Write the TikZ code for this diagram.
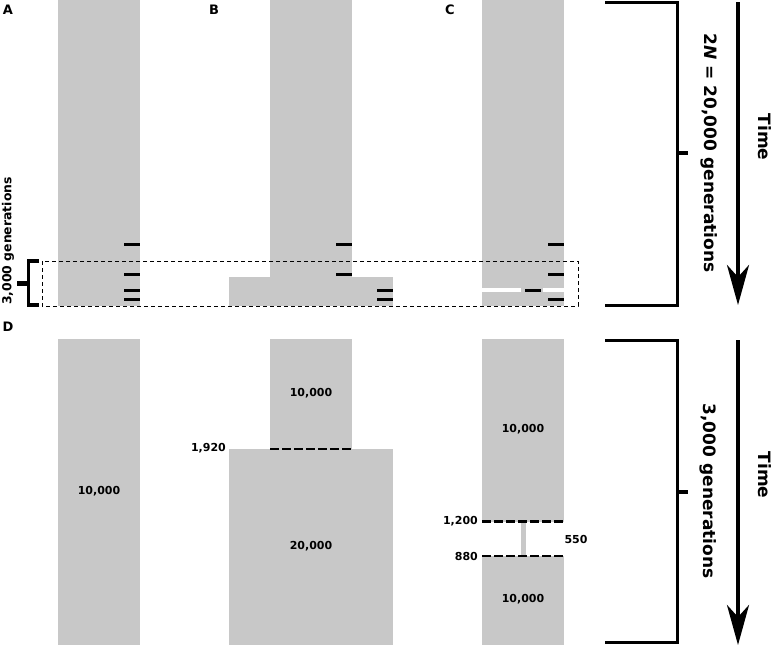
\documentclass[tikz,border=0pt]{standalone}
\usepackage{fontspec}
\setmainfont{DejaVu Sans}
\usetikzlibrary{arrows.meta}
\definecolor{PopGray}{HTML}{C8C8C8}

\begin{document}
\begin{tikzpicture}[x=1pt,y=-1pt,
  popbar/.style={fill=PopGray,draw=none},
  sweeptick/.style={line width=3pt},
  eventline/.style={line width=2.5pt,dash pattern=on 9pt off 3pt},
  bracketline/.style={line width=3pt},
  timearrow/.style={line width=4pt,-{Stealth[length=40pt,width=22pt,inset=12pt]}},
  panellabel/.style={font=\fontsize{13}{15}\selectfont\bfseries,inner sep=0pt},
  sizelabel/.style={font=\fontsize{11}{13}\selectfont\bfseries,inner sep=0pt},
  axislabel/.style={font=\fontsize{17}{20}\selectfont\bfseries,inner sep=0pt,rotate=-90}
]
\useasboundingbox (0,0) rectangle (773,645);

% panels A-C
\fill[popbar] (58,0) rectangle (140,306);
\fill[popbar] (270,0) rectangle (352,306);
\fill[popbar] (229,277) rectangle (393,306);
\fill[popbar] (482,0) rectangle (564,306);
\draw[white,line width=3.5pt] (482,290) -- (521,290) (543,290) -- (564,290);
\foreach \y in {244,274,290,299} \draw[sweeptick] (124,\y) -- (140,\y);
\foreach \y in {244,274} \draw[sweeptick] (336,\y) -- (352,\y);
\foreach \y in {290,299} \draw[sweeptick] (377,\y) -- (393,\y);
\foreach \y in {244,274,299} \draw[sweeptick] (548,\y) -- (564,\y);
\draw[sweeptick] (525,290) -- (541,290);
\draw[line width=1pt,dash pattern=on 4pt off 3pt] (42,261) rectangle (578,306);

\draw[line width=3.5pt] (39,261) -- (28.5,261) -- (28.5,305) -- (39,305);
\draw[line width=5pt] (17,283) -- (28.5,283);
\node[font=\fontsize{12.4}{14}\selectfont\bfseries,inner sep=0pt,rotate=90] (winLab) at (8,241) {3,000 generations};

\node[panellabel] (labA) at (8,10) {A};
\node[panellabel] (labB) at (214,10) {B};
\node[panellabel] (labC) at (450,10) {C};
\node[panellabel] (labD) at (8,327) {D};

% time scale, top
\draw[bracketline] (605,2) -- (677,2) -- (677,305) -- (605,305);
\draw[line width=4.5pt] (677,153) -- (688,153);
\node[axislabel] (spanTop) at (709,153) {2\textit{N} = 20,000 generations};
\node[axislabel] (timeTop) at (765,137) {Time};
\coordinate (tTopS) at (738,2);
\coordinate (tTopE) at (738,305);
\draw[timearrow] (tTopS) -- (tTopE);

% panel D
\fill[popbar] (58,339) rectangle (140,645);
\node[sizelabel] (sizeA) at (99,491) {10,000};

\fill[popbar] (270,339) rectangle (352,449);
\fill[popbar] (229,449) rectangle (393,645);
\draw[eventline] (270,449) -- (352,449);
\node[sizelabel] (sizeBtop) at (311,393) {10,000};
\node[sizelabel] (sizeBbot) at (311,546) {20,000};
\node[sizelabel,anchor=east] (genB) at (226,448) {1,920};

\fill[popbar] (482,339) rectangle (564,521.5);
\fill[popbar] (482,556) rectangle (564,645);
\fill[popbar] (521,521.5) rectangle (525.5,556);
\draw[eventline] (482,521.5) -- (564,521.5);
\draw[eventline] (482,556) -- (564,556);
\node[sizelabel] (sizeCtop) at (523,429) {10,000};
\node[sizelabel] (sizeCbot) at (523,599) {10,000};
\node[sizelabel,anchor=east] (genCa) at (478,521.5) {1,200};
\node[sizelabel,anchor=east] (genCb) at (478,556) {880};
\node[sizelabel] (sizeCgap) at (576,539) {550};

% time scale, bottom
\draw[bracketline] (605,340) -- (677,340) -- (677,642) -- (605,642);
\draw[line width=4.5pt] (677,492) -- (688,492);
\node[axislabel] (spanBot) at (708,491) {3,000 generations};
\node[axislabel] (timeBot) at (765,475) {Time};
\coordinate (tBotS) at (738,340);
\coordinate (tBotE) at (738,645);
\draw[timearrow] (tBotS) -- (tBotE);
\end{tikzpicture}
\end{document}
